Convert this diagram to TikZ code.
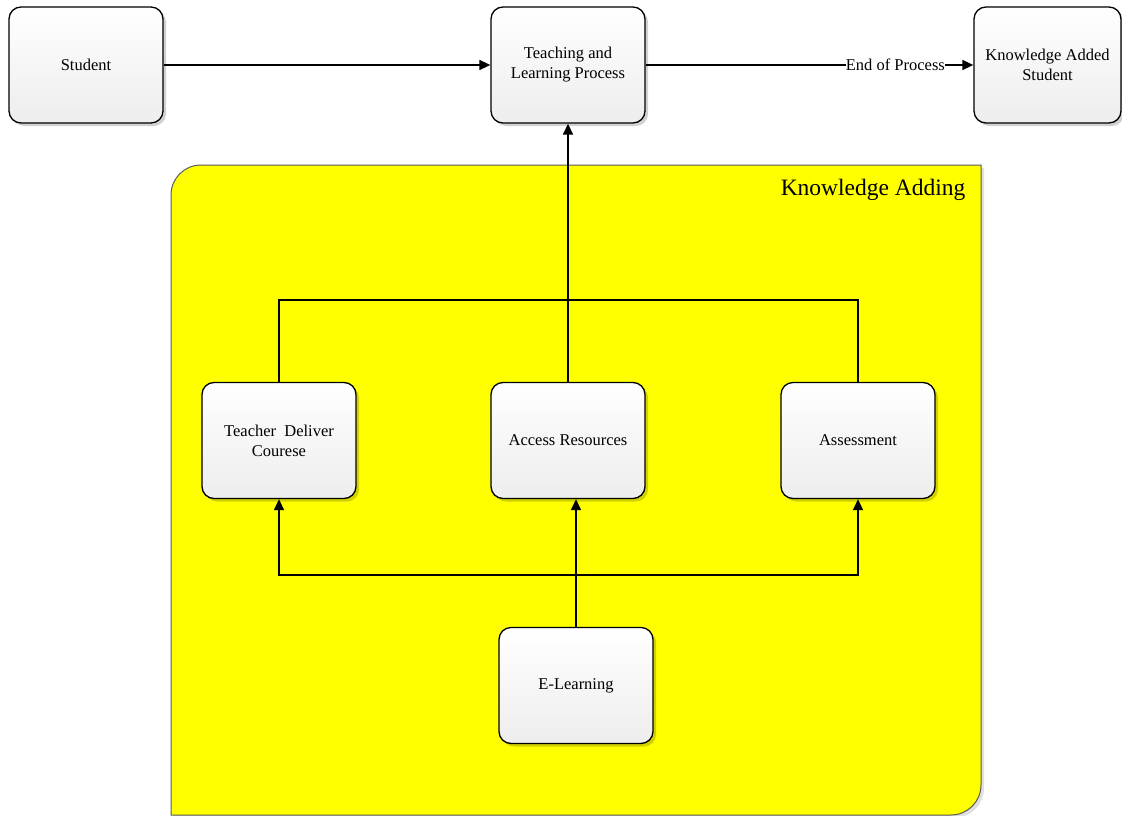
\documentclass[tikz,border=0pt]{standalone}
\usepackage{fontspec}
\setmainfont{Liberation Serif}
\usetikzlibrary{arrows.meta,shadows}
\definecolor{ryellow}{RGB}{255,255,0}
\begin{document}
\begin{tikzpicture}[x=1pt,y=-1pt,
 box/.style={draw=black, line width=1.3pt, rounded corners=12pt, minimum width=154pt, minimum height=116pt,
   top color=white, bottom color=black!7, align=center, font=\fontsize{16.5}{20}\selectfont,
   drop shadow={shadow xshift=3pt, shadow yshift=-3pt, opacity=0.18, fill=black}},
 conn/.style={line width=1.5pt, draw=black},
 arr/.style={conn, -{Triangle[length=11pt,width=10pt]}},
 region/.style={fill=ryellow, draw=black!65, line width=1pt}]
\useasboundingbox (0,0) rectangle (1122,816);
% region
\fill[black, opacity=0.12] (174,818) -- (174,198) .. controls (174,181.4) and (187.4,168) .. (204,168) -- (984,168) -- (984,788) .. controls (984,804.6) and (970.6,818) .. (954,818) -- cycle;
\draw[region] (171,815) -- (171,195) .. controls (171,178.4) and (184.4,165) .. (201,165) -- (981,165) -- (981,785) .. controls (981,801.6) and (967.6,815) .. (951,815) -- cycle;
\node[anchor=east, font=\fontsize{23.5}{26}\selectfont] (title) at (969,190) {Knowledge Adding};
% nodes
\node[box] (student) at (86,65) {Student};
\node[box] (tlp) at (568,65) {Teaching and\\Learning Process};
\node[box, minimum width=147pt] (kas) at (1047.5,65) {Knowledge Added\\Student};
\node[box] (tdc) at (279,440.5) {Teacher\ \ Deliver\\Courese};
\node[box] (ar) at (568,440.5) {Access Resources};
\node[box] (as) at (858,440.5) {Assessment};
\node[box] (el) at (576,685.5) {E-Learning};
\coordinate (bus1) at (568,300);
\coordinate (bus2) at (576,575);
% connectors
\draw[arr] (student) -- (tlp);
\draw[arr] (tlp) -- node[pos=0.762, fill=white, inner sep=0pt, font=\fontsize{16.5}{20}\selectfont] (eop) {End of Process} (kas);
\draw[conn] (tdc.north) |- (bus1) -| (as.north);
\draw[arr] (ar) -- (tlp);
\draw[arr] (el.north) -- (el.north |- ar.south);
\draw[arr] (bus2) -| (tdc.south);
\draw[arr] (bus2) -| (as.south);
\end{tikzpicture}
\end{document}
